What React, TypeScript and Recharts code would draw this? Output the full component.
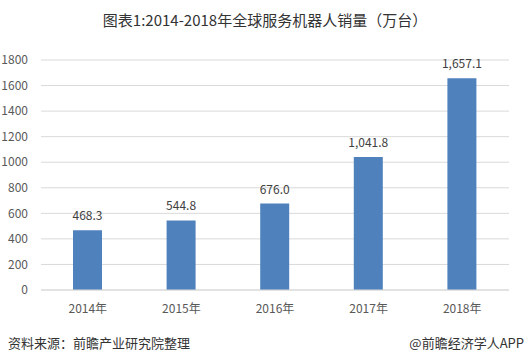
import { BarChart, Bar, XAxis, YAxis, CartesianGrid, LabelList } from "recharts";

const years = ["2014年", "2015年", "2016年", "2017年", "2018年"];
const sales = [468.3, 544.8, 676.0, 1041.8, 1657.1];
const yTicks = [0, 200, 400, 600, 800, 1000, 1200, 1400, 1600, 1800];

const data = years.map((year, i) => ({ year, value: sales[i] }));

const fmt = (v: number) =>
  v.toLocaleString("en-US", { minimumFractionDigits: 1, maximumFractionDigits: 1 });

const font = "'Noto Sans CJK SC', 'Noto Sans', sans-serif";

const App = () => (
  <div style={{ position: "absolute", left: 0, top: 0, width: 530, height: 364, background: "#fff", fontFamily: font }}>
    <div style={{ position: "absolute", top: 9, width: 530, textAlign: "center", fontSize: 15, color: "#333" }}>
      图表1:2014-2018年全球服务机器人销量（万台）
    </div>
    <BarChart
      width={530}
      height={364}
      data={data}
      margin={{ top: 60, right: 21, bottom: 44, left: 0 }}
    >
      <CartesianGrid vertical={false} stroke="#d9d9d9" />
      <XAxis
        dataKey="year"
        height={30}
        axisLine={{ stroke: "#d9d9d9" }}
        tickLine={false}
        tick={{ fill: "#595959", fontSize: 12, fontFamily: font }}
        tickMargin={8}
      />
      <YAxis
        width={41}
        domain={[0, 1800]}
        ticks={yTicks}
        axisLine={false}
        tickLine={false}
        tickMargin={7}
        tick={{ fill: "#595959", fontSize: 12, fontFamily: font }}
      />
      <Bar dataKey="value" fill="#4f81bd" barSize={29} isAnimationActive={false}>
        <LabelList
          dataKey="value"
          position="top"
          offset={10}
          formatter={(v: any) => fmt(Number(v))}
          style={{ fill: "#404040", fontSize: 12, fontFamily: font }}
        />
      </Bar>
    </BarChart>
    <div style={{ position: "absolute", left: 8, top: 333, fontSize: 13, color: "#333" }}>
      资料来源：前瞻产业研究院整理
    </div>
    <div style={{ position: "absolute", right: 6, top: 333, fontSize: 13, color: "#333" }}>
      @前瞻经济学人APP
    </div>
  </div>
);

export default App;
